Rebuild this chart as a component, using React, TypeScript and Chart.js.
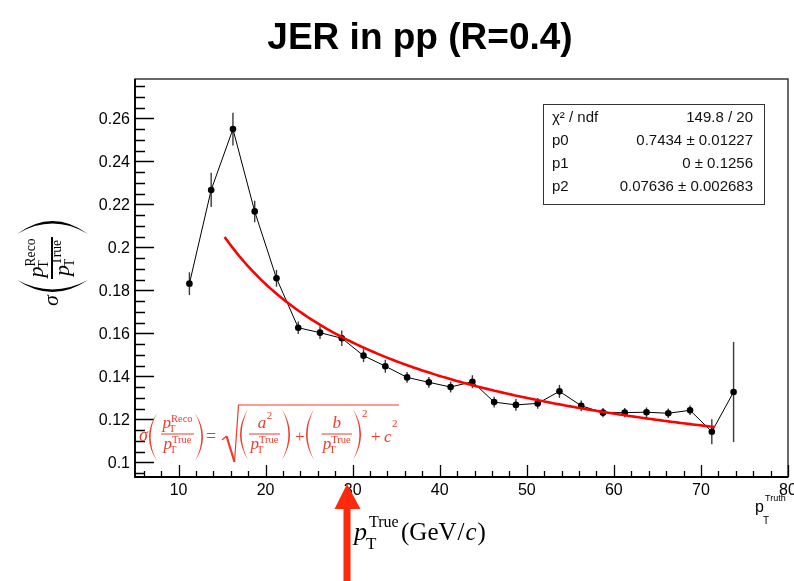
import React, { useEffect, useRef } from "react";
import { Chart, registerables } from "chart.js";

Chart.register(...registerables);

// ---------------- data ----------------
const binCenters = [11.25, 13.75, 16.25, 18.75, 21.25, 23.75, 26.25, 28.75, 31.25, 33.75, 36.25, 38.75, 41.25, 43.75, 46.25, 48.75, 51.25, 53.75, 56.25, 58.75, 61.25, 63.75, 66.25, 68.75, 71.25, 73.75];
const jerValues = [0.1831, 0.2267, 0.255, 0.2167, 0.1856, 0.1626, 0.1603, 0.1577, 0.1496, 0.1447, 0.1395, 0.1372, 0.135, 0.1375, 0.128, 0.1267, 0.1274, 0.133, 0.1263, 0.1231, 0.1231, 0.1233, 0.1228, 0.1242, 0.1142, 0.1327];
const jerErrors = [0.0053, 0.008, 0.0076, 0.005, 0.0039, 0.0029, 0.003, 0.0036, 0.003, 0.003, 0.0025, 0.0025, 0.0025, 0.003, 0.0025, 0.0027, 0.0025, 0.003, 0.0025, 0.0022, 0.0022, 0.0022, 0.0022, 0.0022, 0.0058, 0.0233];

// fit parameters (as shown in the stats box) and fit range
const fitP0 = 0.7434;
const fitP1 = 0;
const fitP2 = 0.07636;
const fitRange = [15.3, 71.6];

// axes
const xRange = [5, 80];
const yRange = [0.09316, 0.2783];
const xMajorTicks = [10, 20, 30, 40, 50, 60, 70, 80];
const xTickLabels = ["10", "20", "30", "40", "50", "60", "70", "80"];
const yMajorTicks = [0.1, 0.12, 0.14, 0.16, 0.18, 0.2, 0.22, 0.24, 0.26];
const yTickLabels = ["0.1", "0.12", "0.14", "0.16", "0.18", "0.2", "0.22", "0.24", "0.26"];
const xMinorStep = 2;
const yMinorStep = 0.005;

// texts
const titleText = "JER in pp (R=0.4)";
const statsLabels = ["χ² / ndf", "p0", "p1", "p2"];
const statsValues = ["149.8 / 20", "0.7434 ± 0.01227", "0 ± 0.1256", "0.07636 ± 0.002683"];

const SANS = "'Liberation Sans', Arial, sans-serif";
const SERIF = "'Liberation Serif', 'Times New Roman', serif";
const FORMULA_RED = "#f03c2a";

// ---------------- drawing helpers ----------------
function crescent(ctx: CanvasRenderingContext2D, xEnd: number, xBulge: number, yTop: number, yBot: number, thick: number) {
  const sgn = xBulge > xEnd ? 1 : -1;
  const yMid = (yTop + yBot) / 2;
  const cOuter = 2 * xBulge - xEnd;
  const cInner = 2 * (xBulge - sgn * thick) - xEnd;
  ctx.beginPath();
  ctx.moveTo(xEnd, yTop);
  ctx.quadraticCurveTo(cOuter, yMid, xEnd, yBot);
  ctx.quadraticCurveTo(cInner, yMid, xEnd, yTop);
  ctx.closePath();
  ctx.fill();
}

function ptWidth(ctx: CanvasRenderingContext2D, sup: string, size: number) {
  ctx.font = `italic ${size}px ${SERIF}`;
  const pw = ctx.measureText("p").width;
  ctx.font = `${size * 0.62}px ${SERIF}`;
  const sw = ctx.measureText(sup).width;
  const tw = ctx.measureText("T").width;
  return pw + Math.max(sw, tw - 2);
}

// draws p_T^{sup} centred at cx on baseline y
function drawPT(ctx: CanvasRenderingContext2D, cx: number, y: number, sup: string, size: number) {
  const w = ptWidth(ctx, sup, size);
  const x0 = cx - w / 2;
  ctx.textAlign = "left";
  ctx.textBaseline = "alphabetic";
  ctx.font = `italic ${size}px ${SERIF}`;
  ctx.fillText("p", x0, y);
  const pw = ctx.measureText("p").width;
  ctx.font = `${size * 0.62}px ${SERIF}`;
  ctx.fillText("T", x0 + pw - 2, y + size * 0.24);
  ctx.fillText(sup, x0 + pw, y - size * 0.38);
}

const rootPlugin = {
  id: "rootStyle",
  beforeDraw(chart: any) {
    const ctx = chart.ctx as CanvasRenderingContext2D;
    ctx.save();
    ctx.fillStyle = "#ffffff";
    ctx.fillRect(0, 0, chart.width, chart.height);
    ctx.restore();
  },
  beforeDatasetsDraw(chart: any) {
    const ctx = chart.ctx as CanvasRenderingContext2D;
    const xs = chart.scales.x;
    const ys = chart.scales.y;
    ctx.save();
    ctx.strokeStyle = "#3a3a3a";
    ctx.lineWidth = 1.4;
    for (let i = 0; i < binCenters.length; i++) {
      const px = xs.getPixelForValue(binCenters[i]);
      const y1 = ys.getPixelForValue(jerValues[i] - jerErrors[i]);
      const y2 = ys.getPixelForValue(jerValues[i] + jerErrors[i]);
      ctx.beginPath();
      ctx.moveTo(px, y1);
      ctx.lineTo(px, y2);
      ctx.stroke();
    }
    ctx.restore();
  },
  afterDraw(chart: any) {
    const ctx = chart.ctx as CanvasRenderingContext2D;
    const xs = chart.scales.x;
    const ys = chart.scales.y;
    const ca = chart.chartArea;
    ctx.save();

    // frame
    ctx.strokeStyle = "#2a2a2a";
    ctx.lineWidth = 1.4;
    ctx.strokeRect(ca.left, ca.top, ca.right - ca.left, ca.bottom - ca.top);
    ctx.strokeStyle = "#000";
    ctx.lineWidth = 1.8;
    ctx.beginPath();
    ctx.moveTo(ca.left, ca.top);
    ctx.lineTo(ca.left, ca.bottom);
    ctx.lineTo(ca.right, ca.bottom);
    ctx.stroke();

    // ticks
    ctx.lineWidth = 1.3;
    ctx.beginPath();
    for (const v of yMajorTicks) {
      const py = Math.round(ys.getPixelForValue(v)) + 0.5;
      ctx.moveTo(ca.left, py);
      ctx.lineTo(ca.left + 19, py);
    }
    for (let v = yRange[0] - (yRange[0] % yMinorStep) + yMinorStep; v < yRange[1]; v += yMinorStep) {
      const py = Math.round(ys.getPixelForValue(v)) + 0.5;
      ctx.moveTo(ca.left, py);
      ctx.lineTo(ca.left + 10, py);
    }
    for (const v of xMajorTicks) {
      const px = Math.round(xs.getPixelForValue(v)) + 0.5;
      ctx.moveTo(px, ca.bottom);
      ctx.lineTo(px, ca.bottom - 12);
    }
    for (let v = xRange[0] + 1; v < xRange[1]; v += xMinorStep) {
      const px = Math.round(xs.getPixelForValue(v)) + 0.5;
      ctx.moveTo(px, ca.bottom);
      ctx.lineTo(px, ca.bottom - 6);
    }
    ctx.stroke();

    // tick labels
    ctx.fillStyle = "#000";
    ctx.font = `16px ${SANS}`;
    ctx.textAlign = "right";
    ctx.textBaseline = "middle";
    yMajorTicks.forEach((v, i) => {
      ctx.fillText(yTickLabels[i], ca.left - 5, ys.getPixelForValue(v) + 1);
    });
    ctx.textAlign = "center";
    ctx.textBaseline = "top";
    xMajorTicks.forEach((v, i) => {
      ctx.fillText(xTickLabels[i], xs.getPixelForValue(v), ca.bottom + 6);
    });

    // title
    ctx.font = `bold 37px ${SANS}`;
    ctx.textAlign = "center";
    ctx.textBaseline = "alphabetic";
    ctx.fillText(titleText, 420, 49);

    // stats box
    ctx.lineWidth = 1;
    ctx.strokeStyle = "#333";
    ctx.strokeRect(543.5, 104.5, 221, 100);
    ctx.fillStyle = "#111";
    ctx.font = `15px ${SANS}`;
    ctx.textBaseline = "middle";
    const rowY = [118, 141, 164, 187];
    statsLabels.forEach((s, i) => {
      ctx.textAlign = "left";
      ctx.fillText(s, 552, rowY[i]);
      ctx.textAlign = "right";
      ctx.fillText(statsValues[i], 753, rowY[i]);
    });

    // y axis title (rotated)
    ctx.save();
    ctx.translate(52, 248);
    ctx.rotate(-Math.PI / 2);
    ctx.fillStyle = "#000";
    ctx.textAlign = "left";
    ctx.textBaseline = "alphabetic";
    ctx.font = `italic 22px ${SERIF}`;
    ctx.fillText("σ", -58, 6);
    crescent(ctx, -32, -44, -35, 36, 2.6);
    crescent(ctx, 14, 27, -35, 36, 2.6);
    ctx.fillRect(-31, -1, 42, 2);
    drawPT(ctx, -10, -9, "Reco", 22);
    drawPT(ctx, -10, 17, "True", 22);
    ctx.restore();

    // red formula
    ctx.save();
    ctx.fillStyle = FORMULA_RED;
    ctx.strokeStyle = FORMULA_RED;
    ctx.textAlign = "left";
    ctx.textBaseline = "alphabetic";
    ctx.font = `italic 18px ${SERIF}`;
    ctx.fillText("σ", 139, 441);
    crescent(ctx, 157, 149, 413, 461, 1.6);
    ctx.fillRect(161, 433.5, 33, 1);
    drawPT(ctx, 177.5, 428, "Reco", 17);
    drawPT(ctx, 177.5, 449, "True", 17);
    crescent(ctx, 195, 203, 413, 461, 1.6);
    ctx.font = `18px ${SERIF}`;
    ctx.fillText("=", 206, 442);
    // radical
    ctx.lineWidth = 1.2;
    ctx.beginPath();
    ctx.moveTo(222, 440);
    ctx.lineTo(226.5, 436);
    ctx.stroke();
    ctx.lineWidth = 2.2;
    ctx.beginPath();
    ctx.moveTo(226.5, 436);
    ctx.lineTo(234.5, 462);
    ctx.stroke();
    ctx.lineWidth = 1.2;
    ctx.beginPath();
    ctx.moveTo(234.5, 462);
    ctx.lineTo(238.5, 405);
    ctx.lineTo(399, 405);
    ctx.stroke();
    // (a^2 / pT)
    crescent(ctx, 248, 240, 409, 460, 1.6);
    ctx.fillRect(249, 433.5, 31, 1);
    ctx.font = `italic 17px ${SERIF}`;
    const aw = ctx.measureText("a").width;
    ctx.fillText("a", 264.5 - (aw + 5) / 2, 428);
    ctx.font = `11px ${SERIF}`;
    ctx.fillText("2", 264.5 - (aw + 5) / 2 + aw + 0.5, 419);
    drawPT(ctx, 264.5, 449, "True", 17);
    crescent(ctx, 282, 290, 409, 460, 1.6);
    ctx.font = `17px ${SERIF}`;
    ctx.fillText("+", 295, 442);
    // (b / pT)^2
    crescent(ctx, 314, 306, 409, 460, 1.6);
    ctx.fillRect(321.5, 433.5, 30.5, 1);
    ctx.font = `italic 17px ${SERIF}`;
    ctx.textAlign = "center";
    ctx.fillText("b", 336.7, 428);
    ctx.textAlign = "left";
    drawPT(ctx, 336.7, 449, "True", 17);
    crescent(ctx, 353, 361, 409, 460, 1.6);
    ctx.font = `11px ${SERIF}`;
    ctx.fillText("2", 362, 417);
    ctx.font = `17px ${SERIF}`;
    ctx.fillText("+", 371, 442);
    ctx.font = `italic 17px ${SERIF}`;
    ctx.fillText("c", 384, 442);
    ctx.font = `11px ${SERIF}`;
    ctx.fillText("2", 392, 427);
    ctx.restore();

    // x axis title
    ctx.save();
    ctx.fillStyle = "#000";
    ctx.textAlign = "left";
    ctx.textBaseline = "alphabetic";
    ctx.font = `italic 26px ${SERIF}`;
    ctx.fillText("p", 354, 540);
    ctx.font = `17px ${SERIF}`;
    ctx.fillText("T", 366, 549);
    ctx.font = `16px ${SERIF}`;
    ctx.fillText("True", 369, 527);
    let xx = 401;
    ctx.font = `25px ${SERIF}`;
    ctx.fillText("(GeV", xx, 540);
    xx += ctx.measureText("(GeV").width + 1;
    ctx.fillText("/", xx, 540);
    xx += ctx.measureText("/").width + 1;
    ctx.font = `italic 25px ${SERIF}`;
    ctx.fillText("c", xx, 540);
    xx += ctx.measureText("c").width + 1;
    ctx.font = `25px ${SERIF}`;
    ctx.fillText(")", xx, 540);
    ctx.restore();

    // small ROOT axis label at bottom right
    ctx.save();
    ctx.fillStyle = "#000";
    ctx.textAlign = "left";
    ctx.textBaseline = "alphabetic";
    ctx.font = `16px ${SANS}`;
    ctx.fillText("p", 755, 512);
    ctx.font = `9px ${SANS}`;
    ctx.fillText("Truth", 765, 501);
    ctx.font = `10px ${SANS}`;
    ctx.fillText("T", 763, 524);
    ctx.restore();

    // red arrow
    ctx.save();
    ctx.fillStyle = "#ff2a0d";
    ctx.fillRect(343.5, 505, 7, 76);
    ctx.beginPath();
    ctx.moveTo(334.5, 509);
    ctx.lineTo(360.5, 509);
    ctx.lineTo(347, 484);
    ctx.closePath();
    ctx.fill();
    ctx.restore();

    ctx.restore();
  },
};

export default function App() {
  const canvasRef = useRef<HTMLCanvasElement | null>(null);

  useEffect(() => {
    if (!canvasRef.current) return;
    const points = binCenters.map((x, i) => ({ x, y: jerValues[i] }));
    const fitPoints: { x: number; y: number }[] = [];
    const nFit = 200;
    for (let i = 0; i <= nFit; i++) {
      const x = fitRange[0] + ((fitRange[1] - fitRange[0]) * i) / nFit;
      const y = Math.sqrt((fitP0 * fitP0) / x + (fitP1 / x) * (fitP1 / x) + fitP2 * fitP2);
      fitPoints.push({ x, y });
    }
    const chart = new Chart(canvasRef.current, {
      type: "scatter",
      data: {
        datasets: [
          {
            label: "fit",
            data: fitPoints,
            showLine: true,
            borderColor: "#ff0000",
            borderWidth: 2.6,
            pointRadius: 0,
            fill: false,
            tension: 0,
          },
          {
            label: "JER",
            data: points,
            showLine: true,
            borderColor: "#000",
            borderWidth: 1,
            pointRadius: 3.3,
            pointBackgroundColor: "#000",
            pointBorderColor: "#000",
            pointBorderWidth: 0,
            fill: false,
            tension: 0,
          },
        ],
      },
      options: {
        responsive: false,
        animation: false,
        devicePixelRatio: 1,
        events: [],
        layout: { padding: { left: 135, right: 6, top: 79, bottom: 104 } },
        plugins: {
          legend: { display: false },
          tooltip: { enabled: false },
          title: { display: false },
        },
        scales: {
          x: { type: "linear", min: xRange[0], max: xRange[1], display: false },
          y: { type: "linear", min: yRange[0], max: yRange[1], display: false },
        },
      } as any,
      plugins: [rootPlugin as any],
    });
    return () => chart.destroy();
  }, []);

  return (
    <div style={{ position: "absolute", left: 0, top: 0, width: 794, height: 581, background: "#fff" }}>
      <canvas ref={canvasRef} width={794} height={581} style={{ display: "block", width: 794, height: 581 }} />
    </div>
  );
}
